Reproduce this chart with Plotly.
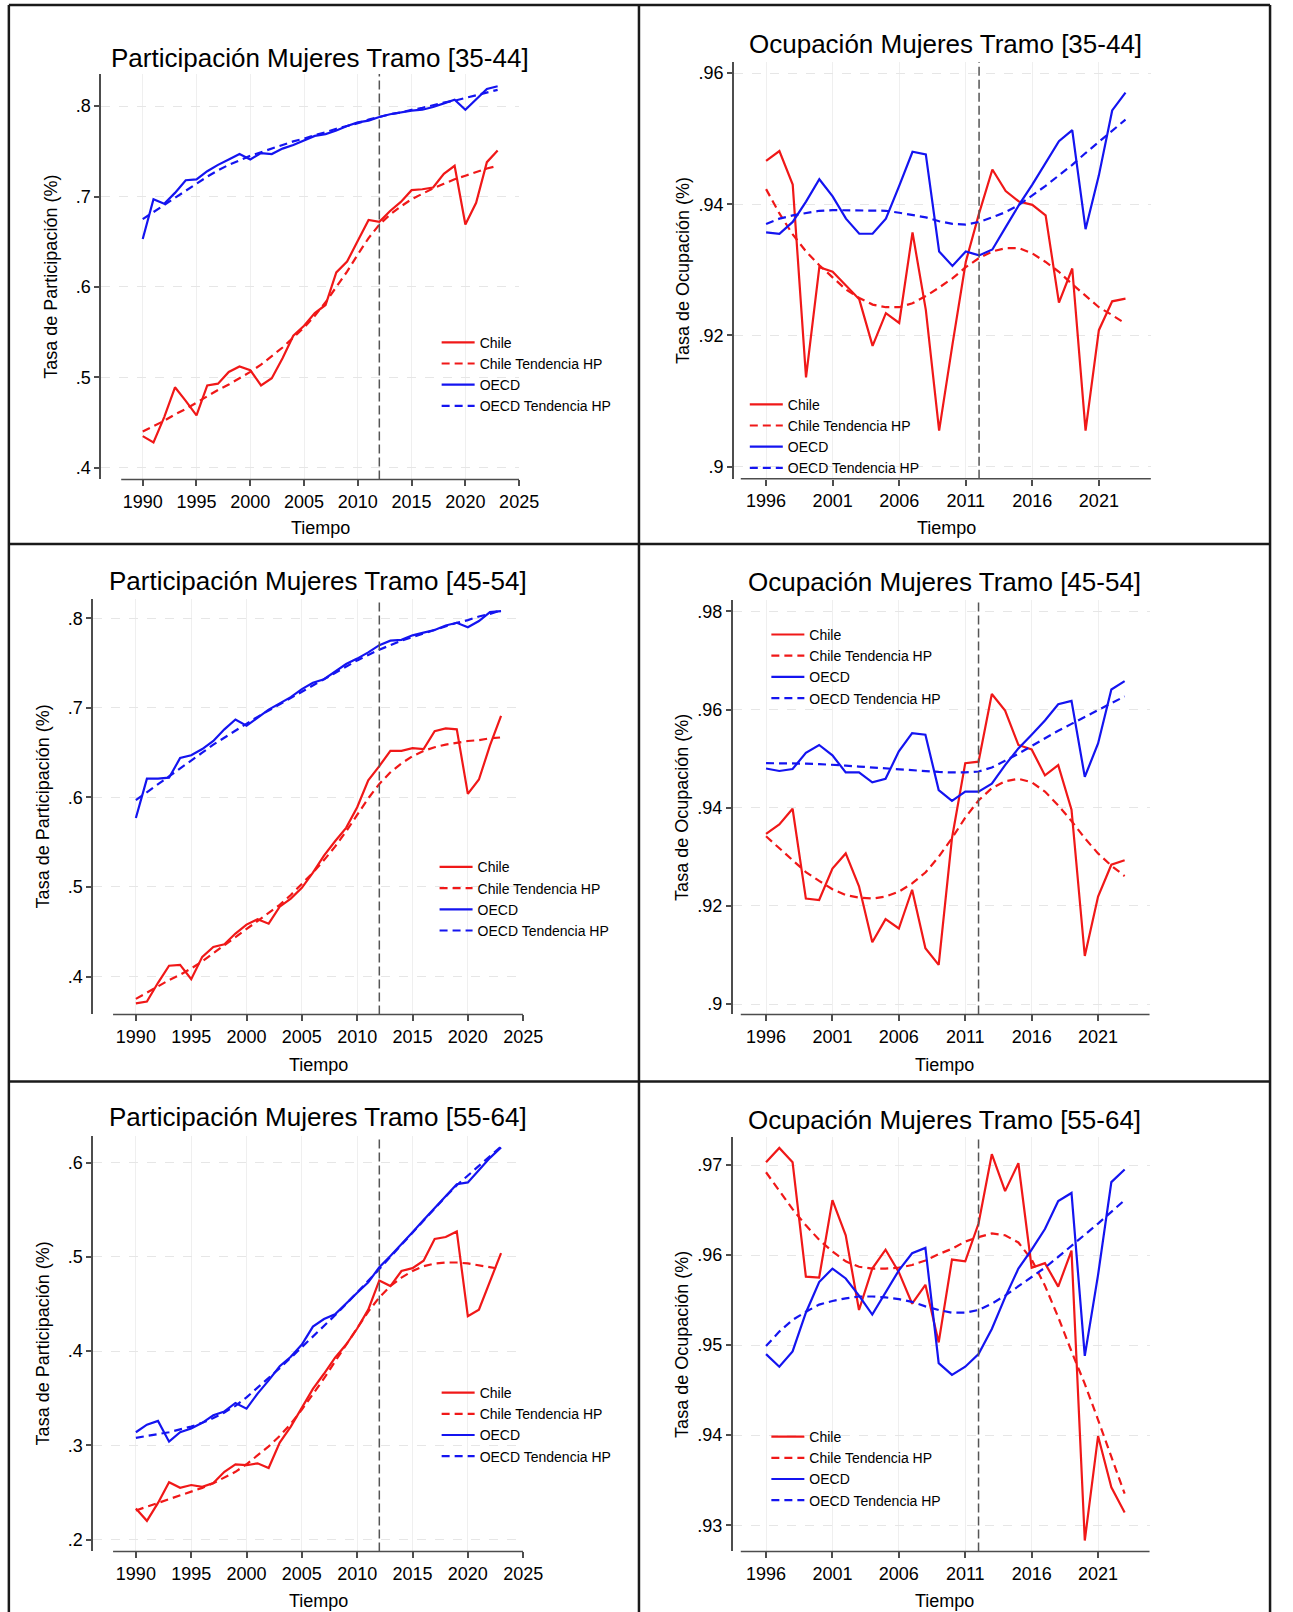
import plotly.graph_objects as go

W, H = 1293, 1612
FONT = "Liberation Sans, Arial, Helvetica, sans-serif"
RED = "#f01818"
BLUE = "#1414f0"
DASH = "8px,5px"

# ---- data -------------------------------------------------------------
years_part = list(range(1990, 2024))
years_ocup = list(range(1996, 2024))

part_35_chile = [0.435, 0.428, 0.456, 0.489, 0.474, 0.458, 0.491, 0.493, 0.506, 0.512,
                 0.508, 0.491, 0.499, 0.521, 0.546, 0.557, 0.571, 0.580, 0.616, 0.628,
                 0.651, 0.674, 0.672, 0.684, 0.694, 0.707, 0.708, 0.710, 0.725, 0.734,
                 0.669, 0.693, 0.738, 0.751]
part_35_chile_hp = [0.440, 0.446, 0.452, 0.459, 0.465, 0.472, 0.479, 0.486, 0.492, 0.499,
                    0.506, 0.514, 0.523, 0.533, 0.544, 0.555, 0.568, 0.583, 0.600, 0.617,
                    0.636, 0.654, 0.669, 0.680, 0.689, 0.697, 0.703, 0.709, 0.714, 0.719,
                    0.723, 0.727, 0.731, 0.734]
part_35_oecd = [0.653, 0.697, 0.692, 0.704, 0.718, 0.719, 0.728, 0.735, 0.741, 0.747,
                0.741, 0.748, 0.747, 0.753, 0.757, 0.762, 0.767, 0.769, 0.773, 0.778,
                0.782, 0.784, 0.788, 0.791, 0.793, 0.795, 0.796, 0.799, 0.803, 0.807,
                0.796, 0.807, 0.819, 0.822]
part_35_oecd_hp = [0.675, 0.683, 0.691, 0.699, 0.707, 0.715, 0.722, 0.729, 0.735, 0.740,
                   0.745, 0.749, 0.753, 0.757, 0.761, 0.764, 0.768, 0.771, 0.775, 0.778,
                   0.781, 0.785, 0.788, 0.791, 0.793, 0.796, 0.798, 0.801, 0.804, 0.806,
                   0.809, 0.812, 0.815, 0.818]

ocup_35_chile = [0.9466, 0.9481, 0.9430, 0.9136, 0.9304, 0.9297, 0.9276, 0.9255, 0.9184, 0.9234,
                 0.9219, 0.9357, 0.9239, 0.9055, 0.9186, 0.9312, 0.9386, 0.9453, 0.9420, 0.9404,
                 0.9399, 0.9383, 0.9250, 0.9302, 0.9055, 0.9208, 0.9252, 0.9256]
ocup_35_chile_hp = [0.9423, 0.9386, 0.9354, 0.9328, 0.9307, 0.9289, 0.9270, 0.9257, 0.9247, 0.9243,
                    0.9243, 0.9249, 0.9260, 0.9273, 0.9287, 0.9304, 0.9318, 0.9328, 0.9333, 0.9333,
                    0.9325, 0.9312, 0.9297, 0.9278, 0.9260, 0.9243, 0.9231, 0.9218]
ocup_35_oecd = [0.9357, 0.9355, 0.9373, 0.9404, 0.9438, 0.9412, 0.9378, 0.9355, 0.9355, 0.9378,
                0.9428, 0.9480, 0.9476, 0.9328, 0.9306, 0.9328, 0.9322, 0.9331, 0.9365, 0.9399,
                0.9430, 0.9462, 0.9496, 0.9513, 0.9362, 0.9444, 0.9543, 0.9570]
ocup_35_oecd_hp = [0.9370, 0.9378, 0.9383, 0.9387, 0.9390, 0.9391, 0.9391, 0.9391, 0.9391, 0.9390,
                   0.9387, 0.9384, 0.9380, 0.9374, 0.9370, 0.9369, 0.9373, 0.9380, 0.9388, 0.9399,
                   0.9413, 0.9428, 0.9444, 0.9460, 0.9478, 0.9495, 0.9513, 0.9529]

part_45_chile = [0.370, 0.372, 0.393, 0.412, 0.413, 0.397, 0.422, 0.433, 0.436, 0.448,
                 0.458, 0.464, 0.459, 0.478, 0.487, 0.499, 0.516, 0.535, 0.551, 0.566,
                 0.589, 0.619, 0.635, 0.652, 0.652, 0.655, 0.654, 0.674, 0.677, 0.676,
                 0.604, 0.620, 0.658, 0.691]
part_45_chile_hp = [0.375, 0.382, 0.389, 0.396, 0.402, 0.409, 0.417, 0.426, 0.435, 0.444,
                    0.453, 0.462, 0.471, 0.480, 0.491, 0.503, 0.516, 0.530, 0.545, 0.562,
                    0.580, 0.599, 0.615, 0.628, 0.638, 0.646, 0.652, 0.656, 0.659, 0.661,
                    0.663, 0.664, 0.666, 0.667]
part_45_oecd = [0.577, 0.621, 0.621, 0.622, 0.644, 0.647, 0.654, 0.663, 0.676, 0.687,
                0.680, 0.689, 0.698, 0.705, 0.712, 0.721, 0.728, 0.732, 0.741, 0.749,
                0.755, 0.762, 0.770, 0.775, 0.776, 0.781, 0.784, 0.787, 0.792, 0.795,
                0.790, 0.797, 0.807, 0.808]
part_45_oecd_hp = [0.597, 0.606, 0.615, 0.624, 0.633, 0.642, 0.650, 0.659, 0.667, 0.675,
                   0.683, 0.690, 0.697, 0.704, 0.711, 0.718, 0.725, 0.732, 0.739, 0.746,
                   0.753, 0.759, 0.765, 0.770, 0.775, 0.779, 0.783, 0.787, 0.791, 0.795,
                   0.798, 0.802, 0.805, 0.809]

ocup_45_chile = [0.9347, 0.9366, 0.9398, 0.9215, 0.9212, 0.9276, 0.9307, 0.9240, 0.9126, 0.9173,
                 0.9154, 0.9233, 0.9114, 0.9080, 0.9338, 0.9491, 0.9494, 0.9632, 0.9598, 0.9528,
                 0.9519, 0.9466, 0.9487, 0.9396, 0.9098, 0.9219, 0.9284, 0.9293]
ocup_45_chile_hp = [0.9342, 0.9317, 0.9293, 0.9269, 0.9251, 0.9234, 0.9222, 0.9217, 0.9215, 0.9219,
                    0.9229, 0.9246, 0.9268, 0.9300, 0.9338, 0.9380, 0.9415, 0.9440, 0.9454, 0.9459,
                    0.9452, 0.9433, 0.9405, 0.9373, 0.9338, 0.9307, 0.9282, 0.9261]
ocup_45_oecd = [0.9480, 0.9475, 0.9479, 0.9512, 0.9528, 0.9507, 0.9472, 0.9472, 0.9452, 0.9459,
                0.9515, 0.9552, 0.9549, 0.9436, 0.9414, 0.9433, 0.9433, 0.9449, 0.9487, 0.9521,
                0.9549, 0.9578, 0.9611, 0.9618, 0.9463, 0.9531, 0.9641, 0.9658]
ocup_45_oecd_hp = [0.9491, 0.9491, 0.9490, 0.9490, 0.9489, 0.9488, 0.9486, 0.9484, 0.9482, 0.9481,
                   0.9479, 0.9477, 0.9475, 0.9473, 0.9472, 0.9472, 0.9474, 0.9482, 0.9496, 0.9510,
                   0.9526, 0.9542, 0.9557, 0.9571, 0.9585, 0.9599, 0.9613, 0.9627]

part_55_chile = [0.233, 0.220, 0.239, 0.261, 0.255, 0.258, 0.256, 0.260, 0.272, 0.280,
                 0.279, 0.281, 0.276, 0.303, 0.320, 0.340, 0.360, 0.376, 0.393, 0.407,
                 0.424, 0.444, 0.475, 0.469, 0.485, 0.488, 0.496, 0.519, 0.521, 0.527,
                 0.437, 0.444, 0.473, 0.504]
part_55_chile_hp = [0.231, 0.235, 0.239, 0.243, 0.247, 0.251, 0.255, 0.260, 0.266, 0.272,
                    0.280, 0.289, 0.299, 0.310, 0.323, 0.338, 0.354, 0.371, 0.389, 0.407,
                    0.425, 0.442, 0.457, 0.469, 0.478, 0.485, 0.490, 0.493, 0.494, 0.494,
                    0.493, 0.491, 0.489, 0.487]
part_55_oecd = [0.314, 0.322, 0.326, 0.304, 0.314, 0.318, 0.324, 0.332, 0.336, 0.345,
                0.339, 0.355, 0.369, 0.384, 0.394, 0.407, 0.426, 0.434, 0.439, 0.451,
                0.462, 0.473, 0.489, 0.501, 0.513, 0.526, 0.539, 0.552, 0.564, 0.577,
                0.579, 0.592, 0.605, 0.616]
part_55_oecd_hp = [0.308, 0.310, 0.312, 0.314, 0.317, 0.320, 0.324, 0.329, 0.335, 0.342,
                   0.351, 0.361, 0.371, 0.382, 0.393, 0.404, 0.415, 0.426, 0.438, 0.450,
                   0.462, 0.474, 0.487, 0.500, 0.513, 0.526, 0.538, 0.551, 0.564, 0.576,
                   0.586, 0.597, 0.607, 0.617]

ocup_55_chile = [0.9703, 0.9719, 0.9703, 0.9576, 0.9575, 0.9661, 0.9622, 0.9539, 0.9585, 0.9606,
                 0.9581, 0.9546, 0.9567, 0.9503, 0.9595, 0.9593, 0.9635, 0.9712, 0.9671, 0.9702,
                 0.9586, 0.9591, 0.9565, 0.9605, 0.9283, 0.9399, 0.9342, 0.9314]
ocup_55_chile_hp = [0.9692, 0.9671, 0.9651, 0.9633, 0.9617, 0.9604, 0.9593, 0.9587, 0.9585, 0.9585,
                    0.9586, 0.9589, 0.9594, 0.9601, 0.9607, 0.9615, 0.9620, 0.9624, 0.9622, 0.9614,
                    0.9595, 0.9566, 0.9531, 0.9493, 0.9457, 0.9417, 0.9377, 0.9335]
ocup_55_oecd = [0.9490, 0.9476, 0.9493, 0.9536, 0.9570, 0.9585, 0.9574, 0.9555, 0.9534, 0.9559,
                0.9583, 0.9602, 0.9608, 0.9480, 0.9467, 0.9476, 0.9490, 0.9518, 0.9553, 0.9585,
                0.9606, 0.9629, 0.9660, 0.9669, 0.9488, 0.9578, 0.9681, 0.9695]
ocup_55_oecd_hp = [0.9499, 0.9515, 0.9528, 0.9537, 0.9545, 0.9549, 0.9552, 0.9554, 0.9554, 0.9553,
                   0.9551, 0.9548, 0.9543, 0.9539, 0.9536, 0.9536, 0.9539, 0.9546, 0.9555, 0.9565,
                   0.9576, 0.9586, 0.9598, 0.9610, 0.9623, 0.9635, 0.9648, 0.9661]

series_names = ["Chile", "Chile Tendencia HP", "OECD", "OECD Tendencia HP"]
series_styles = [(RED, "solid"), (RED, DASH), (BLUE, "solid"), (BLUE, DASH)]

part_xticks = [1990, 1995, 2000, 2005, 2010, 2015, 2020, 2025]
ocup_xticks = [1996, 2001, 2006, 2011, 2016, 2021]

part_hi_yticks = [0.4, 0.5, 0.6, 0.7, 0.8]
part_hi_ylabels = [".4", ".5", ".6", ".7", ".8"]
part_lo_yticks = [0.2, 0.3, 0.4, 0.5, 0.6]
part_lo_ylabels = [".2", ".3", ".4", ".5", ".6"]
ocup_35_yticks = [0.90, 0.92, 0.94, 0.96]
ocup_35_ylabels = [".9", ".92", ".94", ".96"]
ocup_45_yticks = [0.90, 0.92, 0.94, 0.96, 0.98]
ocup_45_ylabels = [".9", ".92", ".94", ".96", ".98"]
ocup_55_yticks = [0.93, 0.94, 0.95, 0.96, 0.97]
ocup_55_ylabels = [".93", ".94", ".95", ".96", ".97"]

reform_year = 2012

# ---- panel layout (pixel boxes: left, top, right, bottom) ----------------
PART_Y = "Tasa de Participación (%)"
OCUP_Y = "Tasa de Ocupación (%)"

panels = [
    dict(title="Participación Mujeres Tramo [35-44]", ytitle=PART_Y, x=years_part,
         series=[part_35_chile, part_35_chile_hp, part_35_oecd, part_35_oecd_hp],
         yticks=part_hi_yticks, ylabels=part_hi_ylabels, xticks=part_xticks,
         box=(102.8, 74.0, 527.3, 479.4), xrange=(1986.14, 2025.0), yrange=(0.3871, 0.8355),
         xline_start=1988.0, title_xy=(325.4, 58.5), xtitle_xy=(325.4, 528.0),
         legend_xy=(441.5, 342.7)),
    dict(title="Ocupación Mujeres Tramo [35-44]", ytitle=OCUP_Y, x=years_ocup,
         series=[ocup_35_chile, ocup_35_chile_hp, ocup_35_oecd, ocup_35_oecd_hp],
         yticks=ocup_35_yticks, ylabels=ocup_35_ylabels, xticks=ocup_xticks,
         box=(745.4, 62.0, 1169.0, 478.7), xrange=(1993.58, 2024.91), yrange=(0.89816, 0.96168),
         xline_start=1994.1, title_xy=(960.0, 44.1), xtitle_xy=(961.0, 528.0),
         legend_xy=(754.5, 404.7)),
    dict(title="Participación Mujeres Tramo [45-54]", ytitle=PART_Y, x=years_part,
         series=[part_45_chile, part_45_chile_hp, part_45_oecd, part_45_oecd_hp],
         yticks=part_hi_yticks, ylabels=part_hi_ylabels, xticks=part_xticks,
         box=(94.5, 598.7, 531.4, 1014.4), xrange=(1986.13, 2025.0), yrange=(0.3577, 0.8219),
         xline_start=1987.94, title_xy=(322.7, 580.5), xtitle_xy=(323.3, 1065.0),
         legend_xy=(439.4, 867.3)),
    dict(title="Ocupación Mujeres Tramo [45-54]", ytitle=OCUP_Y, x=years_ocup,
         series=[ocup_45_chile, ocup_45_chile_hp, ocup_45_oecd, ocup_45_oecd_hp],
         yticks=ocup_45_yticks, ylabels=ocup_45_ylabels, xticks=ocup_xticks,
         box=(744.2, 600.4, 1167.8, 1014.4), xrange=(1993.49, 2024.89), yrange=(0.8979, 0.98226),
         xline_start=1994.1, title_xy=(959.0, 582.5), xtitle_xy=(959.0, 1065.0),
         legend_xy=(776.4, 634.9)),
    dict(title="Participación Mujeres Tramo [55-64]", ytitle=PART_Y, x=years_part,
         series=[part_55_chile, part_55_chile_hp, part_55_oecd, part_55_oecd_hp],
         yticks=part_lo_yticks, ylabels=part_lo_ylabels, xticks=part_xticks,
         box=(94.5, 1135.7, 531.4, 1551.4), xrange=(1986.13, 2025.0), yrange=(0.1876, 0.6285),
         xline_start=1987.94, title_xy=(322.7, 1117.0), xtitle_xy=(323.3, 1601.0),
         legend_xy=(441.5, 1393.0)),
    dict(title="Ocupación Mujeres Tramo [55-64]", ytitle=OCUP_Y, x=years_ocup,
         series=[ocup_55_chile, ocup_55_chile_hp, ocup_55_oecd, ocup_55_oecd_hp],
         yticks=ocup_55_yticks, ylabels=ocup_55_ylabels, xticks=ocup_xticks,
         box=(744.2, 1137.4, 1167.8, 1551.4), xrange=(1993.49, 2024.89), yrange=(0.92709, 0.97307),
         xline_start=1994.1, title_xy=(959.0, 1120.0), xtitle_xy=(959.0, 1601.0),
         legend_xy=(776.4, 1437.0)),
]


def fx(px):
    return px / W


def fy(py):
    return 1 - py / H


AXIS_COLOR = "#4d4d4d"
fig = go.Figure()
layout = dict(
    width=W, height=H,
    margin=dict(l=0, r=0, t=0, b=0),
    paper_bgcolor="white", plot_bgcolor="white",
    font=dict(family=FONT, color="black"),
    showlegend=True,
)
shapes, annotations = [], []

for i, p in enumerate(panels, start=1):
    suffix = "" if i == 1 else str(i)
    xa, ya = "x" + suffix, "y" + suffix
    leg = "legend" + suffix
    left, top, right, bottom = p["box"]

    for vals, name, (color, dash) in zip(p["series"], series_names, series_styles):
        fig.add_trace(go.Scatter(
            x=p["x"], y=vals, name=name, mode="lines",
            line=dict(color=color, width=2.2, dash=dash),
            xaxis=xa, yaxis=ya, legend=leg, hoverinfo="skip",
        ))

    layout["xaxis" + suffix] = dict(
        domain=[fx(left), fx(right)], anchor=ya, range=list(p["xrange"]),
        tickmode="array", tickvals=p["xticks"], ticks="outside", ticklen=6,
        tickwidth=1.5, tickcolor=AXIS_COLOR, showline=False, zeroline=False,
        showgrid=True, gridcolor="#efefef", gridwidth=1,
        tickfont=dict(size=18, family=FONT, color="black"), fixedrange=True,
    )
    layout["yaxis" + suffix] = dict(
        domain=[fy(bottom), fy(top)], anchor=xa, range=list(p["yrange"]),
        tickmode="array", tickvals=p["yticks"], ticktext=p["ylabels"],
        ticks="outside", ticklen=5, tickwidth=1.5, tickcolor=AXIS_COLOR,
        showline=True, linecolor=AXIS_COLOR, linewidth=1.5, zeroline=False,
        showgrid=True, gridcolor="#e6e6e6", gridwidth=1, griddash="dash",
        tickfont=dict(size=18, family=FONT, color="black"), fixedrange=True,
    )
    lx, ly = p["legend_xy"]
    layout[leg] = dict(
        x=fx(lx + 2), y=fy(ly - 16), xanchor="left", yanchor="top",
        xref="paper", yref="paper", bgcolor="rgba(0,0,0,0)", borderwidth=0,
        font=dict(size=14, family=FONT, color="black"), itemwidth=33,
        tracegroupgap=0,
    )

    # x axis line (starts a little right of the y axis)
    shapes.append(dict(type="line", xref=xa, yref=ya + " domain",
                       x0=p["xline_start"], x1=p["xrange"][1], y0=0, y1=0,
                       line=dict(color=AXIS_COLOR, width=1.5), layer="above"))
    # vertical reference line at the reform year
    shapes.append(dict(type="line", xref=xa, yref=ya + " domain",
                       x0=reform_year, x1=reform_year, y0=0, y1=1,
                       line=dict(color="#555555", width=1.5, dash="9px,4px"),
                       layer="above"))

    tx, ty = p["title_xy"]
    annotations.append(dict(text=p["title"], x=fx(tx), y=fy(ty), xref="paper", yref="paper",
                            xanchor="center", yanchor="middle", showarrow=False,
                            font=dict(size=26, family=FONT, color="black")))
    xtx, xty = p["xtitle_xy"]
    annotations.append(dict(text="Tiempo", x=fx(xtx), y=fy(xty), xref="paper", yref="paper",
                            xanchor="center", yanchor="middle", showarrow=False,
                            font=dict(size=18, family=FONT, color="black")))
    ytx = left - 51.0
    yty = (top + bottom) / 2
    annotations.append(dict(text=p["ytitle"], x=fx(ytx), y=fy(yty), xref="paper", yref="paper",
                            xanchor="center", yanchor="middle", showarrow=False, textangle=-90,
                            font=dict(size=18, family=FONT, color="black")))

# black frames around the six panels
FRAME = dict(color="#1a1a1a", width=2.5)
frame_lines = [
    (9, 5, 1290, 5), (9, 5, 9, H), (1290, 5, 1290, H), (649, 5, 649, H),
    (9, 544, 1290, 544), (9, 1081.5, 1290, 1081.5),
]
for x0, y0, x1, y1 in frame_lines:
    shapes.append(dict(type="line", xref="paper", yref="paper",
                       x0=fx(x0), y0=fy(y0), x1=fx(x1), y1=fy(y1), line=FRAME))

layout["shapes"] = shapes
layout["annotations"] = annotations
fig.update_layout(**layout)
fig.write_html("out.html", config={"displayModeBar": False})
